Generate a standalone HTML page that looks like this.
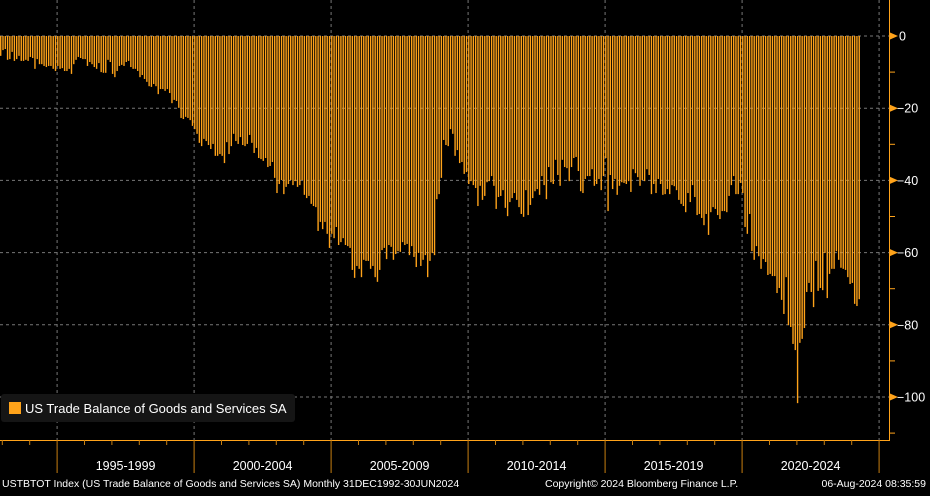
<!DOCTYPE html>
<html><head><meta charset="utf-8"><style>
body{margin:0;background:#000;width:930px;height:491px;overflow:hidden;font-family:"Liberation Sans",sans-serif}
svg text{font-family:"Liberation Sans",sans-serif}
</style></head><body>
<svg id="chart" width="930" height="491" xmlns="http://www.w3.org/2000/svg">
<rect width="930" height="491" fill="#000"/>
<g id="grid"></g><g id="bars"></g><g id="axes"></g>
<g>
<rect x="1" y="394" width="294" height="28" rx="3" fill="#151515"/>
<rect x="9" y="402" width="12" height="12" fill="#ffa31a"/>
<text x="25" y="413" fill="#fff" font-size="13">US Trade Balance of Goods and Services SA</text>
</g>
<text x="2" y="487" fill="#fff" font-size="10.5">USTBTOT Index (US Trade Balance of Goods and Services SA)  Monthly 31DEC1992-30JUN2024</text>
<text x="545" y="487" fill="#fff" font-size="10.5">Copyright© 2024 Bloomberg Finance L.P.</text>
<text x="926" y="487" fill="#fff" font-size="10.5" text-anchor="end">06-Aug-2024 08:35:59</text>
</svg>
<script>
const values=[-5.5,-3.9,-3.6,-6.6,-6.4,-4.4,-6.9,-6.4,-5.5,-6.9,-6.9,-6.6,-6.9,-5.8,-6.1,-9.1,-6.4,-7.8,-7.8,-8.3,-8.6,-8.3,-8.3,-9.1,-9.7,-8.3,-9.1,-8.9,-9.7,-9.7,-9.1,-10.5,-7.8,-6.6,-5.8,-6.1,-6.4,-6.4,-8.3,-7.2,-7.8,-8.6,-9.1,-7.5,-10.0,-10.2,-10.2,-6.6,-7.2,-10.5,-11.4,-9.7,-8.3,-8.0,-8.3,-7.2,-6.9,-8.6,-9.1,-9.1,-9.7,-11.4,-10.8,-11.9,-12.7,-13.9,-14.1,-13.3,-13.9,-16.1,-14.7,-14.7,-15.2,-14.7,-15.8,-18.6,-17.7,-18.0,-19.9,-22.7,-23.0,-22.4,-22.7,-23.3,-24.9,-25.8,-27.1,-29.6,-30.5,-28.5,-29.1,-30.2,-31.3,-29.9,-33.2,-33.2,-32.7,-33.2,-35.2,-29.4,-32.7,-30.5,
-27.1,-29.1,-29.9,-28.0,-30.2,-30.5,-29.9,-27.4,-29.6,-32.4,-31.0,-33.8,-34.1,-34.6,-33.8,-36.3,-36.0,-34.9,-39.3,-43.5,-41.0,-39.9,-43.8,-41.8,-41.0,-39.9,-41.3,-40.2,-41.8,-41.3,-39.9,-44.0,-44.9,-44.3,-46.5,-47.1,-47.4,-54.0,-51.5,-53.5,-51.5,-54.8,-58.7,-54.8,-56.0,-52.9,-57.9,-57.1,-56.0,-57.9,-58.2,-58.7,-64.8,-67.0,-63.7,-64.5,-66.8,-62.0,-62.3,-62.3,-64.5,-63.7,-66.8,-68.1,-64.8,-59.3,-58.7,-61.8,-57.9,-58.4,-62.0,-60.4,-59.6,-59.8,-57.1,-57.9,-57.6,-60.7,-58.2,-61.2,-64.0,-60.1,-63.7,-62.0,-60.7,-66.8,-62.3,-60.1,-60.7,-45.2,-43.8,-39.3,-28.8,-30.2,-30.5,
-25.8,-27.1,-33.2,-31.6,-35.2,-34.9,-38.2,-37.7,-41.0,-40.2,-41.3,-42.1,-47.1,-41.5,-45.4,-44.3,-40.5,-40.2,-38.8,-41.5,-47.9,-44.6,-44.3,-42.7,-47.6,-49.9,-46.0,-44.9,-43.5,-45.4,-47.4,-49.3,-50.1,-42.7,-49.6,-46.8,-44.9,-43.0,-42.4,-44.0,-38.8,-41.3,-45.2,-36.3,-40.5,-41.0,-34.3,-38.5,-41.5,-34.3,-36.3,-36.6,-40.2,-36.3,-33.8,-33.5,-37.4,-43.0,-43.5,-39.6,-38.8,-38.8,-36.9,-41.5,-41.0,-39.6,-42.7,-38.8,-33.8,-48.5,-38.5,-42.4,-39.6,-44.0,-41.5,-40.5,-40.7,-41.0,-40.2,-43.2,-36.9,-38.0,-39.1,-41.5,-39.9,-40.2,-36.9,-38.5,-43.8,-41.0,
-43.5,-39.6,-41.0,-44.0,-43.8,-42.4,-43.8,-41.3,-41.6,-42.7,-45.4,-46.5,-47.1,-48.8,-43.5,-46.0,-41.3,-44.6,-49.6,-49.3,-50.4,-52.4,-49.3,-55.1,-48.8,-47.4,-47.9,-49.6,-50.7,-48.5,-48.5,-48.8,-44.3,-41.3,-38.8,-43.8,-43.8,-40.7,-43.5,-52.9,-54.8,-49.3,-59.6,-62.0,-58.2,-61.0,-64.5,-61.8,-62.6,-66.2,-65.9,-66.5,-66.5,-71.2,-69.8,-73.1,-77.0,-66.8,-80.1,-80.6,-85.3,-87.0,-101.7,-85.0,-83.9,-80.9,-70.9,-68.4,-70.9,-75.1,-62.3,-70.6,-69.8,-70.4,-60.1,-72.6,-65.9,-64.5,-64.5,-59.6,-62.0,-64.2,-64.5,-64.8,-66.8,-68.7,-68.4,-74.2,-74.8,-72.9];
const yTicks=[0,-20,-40,-60,-80,-100];
const periodLabels=["1995-1999","2000-2004","2005-2009","2010-2014","2015-2019","2020-2024"];
const startYear=1993, startMonthOffset=-1; // first bar = Dec 1992

const NS="http://www.w3.org/2000/svg";
const monthW=2.2833, x0=2.3; // x of Jan 1993
const xOf=i=>x0+(i+startMonthOffset)*monthW;
const xYear=y=>x0+(y-startYear)*12*monthW;
const yOf=v=>36-v*3.61;
function mk(tag,attrs,parent){const e=document.createElementNS(NS,tag);for(const k in attrs)e.setAttribute(k,attrs[k]);parent.appendChild(e);return e;}
const grid=document.getElementById('grid'),bars=document.getElementById('bars'),axes=document.getElementById('axes');

yTicks.forEach(t=>{
  const l=mk('line',{x1:0,x2:889,y1:yOf(t),y2:yOf(t),stroke:'#777','stroke-dasharray':'3,3','stroke-width':1},grid);
  
  
});
for(let y=1995;y<=2025;y+=5){
  const l=mk('line',{x1:xYear(y),x2:xYear(y),y1:0,y2:440,stroke:'#777','stroke-dasharray':'3,3','stroke-width':1},grid);
  
  
}
values.forEach((v,i)=>{
  const x=xOf(i);
  const r=mk('rect',{x:x,y:yOf(0),width:monthW-0.9,height:Math.max(0,yOf(v)-yOf(0)),fill:'#ffa31a'},bars);
  
  
});
// right axis
const ra=mk('line',{x1:889.5,x2:889.5,y1:0,y2:440.5,stroke:'#ffa31a','stroke-width':1},axes);


for(let t=0;t>=-110;t-=10){
  const tk=mk('line',{x1:889,x2:895,y1:yOf(t),y2:yOf(t),stroke:'#ffa31a'},axes);
  
  
}
yTicks.forEach(t=>{
  const y=yOf(t);
  const m=mk('polygon',{points:`890,${y-3.5} 898,${y} 890,${y+3.5}`,fill:'#ffa31a'},axes);
  
  
  const tx=mk('text',{x:t===0?899:897,y:y+4.5,fill:'#fff','font-size':12.5},axes);
  
  
  tx.textContent=t===0?'0':'\u2212'+Math.abs(t);
});
// bottom axis
const ba=mk('line',{x1:0,x2:890,y1:440.5,y2:440.5,stroke:'#ffa31a'},axes);


for(let y=startYear;y<=2025;y++){
  const big=(y%5===0);
  const tk=mk('line',{x1:xYear(y),x2:xYear(y),y1:440,y2:big?473:445,stroke:'#c87f10'},axes);
  
  
}
periodLabels.forEach((p,i)=>{
  const xm=(xYear(1995+i*5)+xYear(2000+i*5))/2;
  const tx=mk('text',{x:xm,y:470,fill:'#fff','font-size':12.5,'text-anchor':'middle'},axes);
  
  
  tx.textContent=p;
});
</script>
</body></html>
